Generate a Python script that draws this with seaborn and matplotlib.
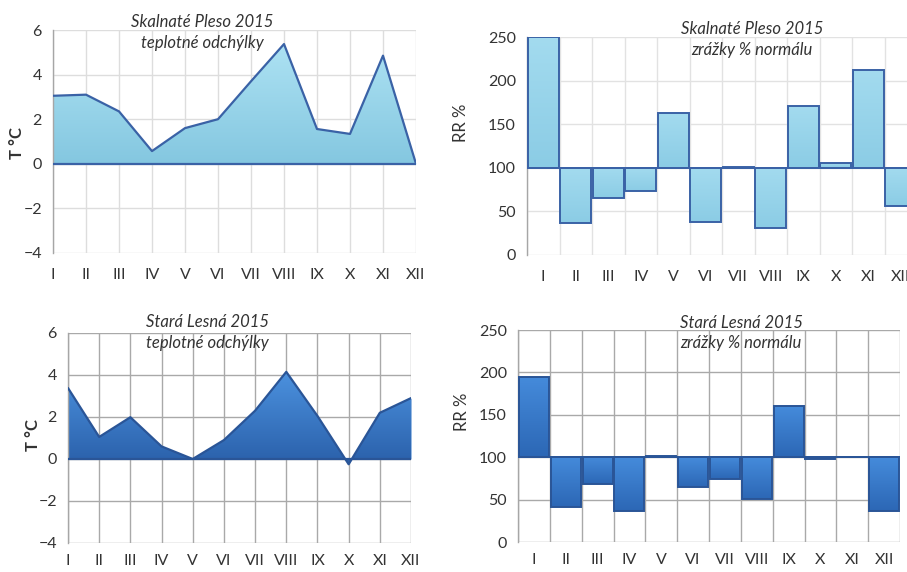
import matplotlib
matplotlib.use("Agg")
import matplotlib.pyplot as plt
import numpy as np
import pandas as pd
import seaborn as sns
from matplotlib.colors import LinearSegmentedColormap
from matplotlib.patches import Polygon

# Monthly data, 2015
months = ["I", "II", "III", "IV", "V", "VI", "VII", "VIII", "IX", "X", "XI", "XII"]
sp_temp_dev = [3.05, 3.1, 2.35, 0.57, 1.6, 2.0, 3.7, 5.37, 1.56, 1.34, 4.85, 0.0]
sp_rain_pct = [250, 37, 65, 73, 163, 38, 101, 31, 171, 106, 212, 56]
sl_temp_dev = [3.38, 1.05, 1.99, 0.6, 0.0, 0.9, 2.3, 4.15, 2.05, -0.25, 2.2, 2.9]
sl_rain_pct = [195, 41, 68, 37, 102, 65, 74, 51, 160, 98, 100, 37]
normal_pct = 100

sns.set_theme(style="white")
plt.rcParams["font.family"] = ["Lato", "DejaVu Sans"]

W, H = 907, 572
fig = plt.figure(figsize=(W / 100, H / 100), dpi=100)
fig.patch.set_facecolor("white")

LIGHT = dict(top="#ade2f3", bottom="#84c7e0", fill="#93d2e9", edge="#3a62a6")
DARK = dict(top="#4c92df", bottom="#2a60aa", fill="#3477c7", edge="#2a5597")
LIGHT_BAR = dict(top="#a3dbef", bottom="#8bcce5", fill="#93d2e9", edge="#3a62a6")
DARK_BAR = dict(top="#458bdb", bottom="#2c67b5", fill="#3477c7", edge="#2a5597")
TXT = "#333333"
FS = 11.5


def px_axes(left, top, right, bottom):
    return fig.add_axes([left / W, 1 - bottom / H, (right - left) / W, (bottom - top) / H])


def fig_text(x, y, s, **kw):
    fig.text(x / W, 1 - y / H, s, color=TXT, **kw)


def style_axes(ax):
    for side in ("top", "right", "bottom"):
        ax.spines[side].set_visible(False)
    ax.spines["left"].set_color("#a6a6a6")
    ax.spines["left"].set_linewidth(1.0)
    ax.tick_params(axis="y", which="major", length=4, color="#a6a6a6",
                   labelsize=FS, labelcolor=TXT, pad=4)
    ax.grid(False)
    ax.set_xlabel("")
    ax.set_ylabel("")
    ax.set_facecolor("white")


def gradient_fill(ax, verts, pal, extent, z):
    clip = Polygon(verts, closed=True, transform=ax.transData)
    cmap = LinearSegmentedColormap.from_list("g", [pal["bottom"], pal["top"]])
    grad = np.linspace(0, 1, 256).reshape(-1, 1)
    im = ax.imshow(grad, cmap=cmap, aspect="auto", origin="lower",
                   extent=extent, zorder=z, interpolation="bilinear")
    im.set_clip_path(clip)


def temp_panel(ax, values, pal, grid_color, pad):
    df = pd.DataFrame({"pos": np.arange(len(months)), "dev": values})
    ax.fill_between(df["pos"], 0, df["dev"], color=pal["fill"], zorder=2, linewidth=0)
    verts = [(0, 0)] + list(zip(df["pos"], df["dev"])) + [(len(months) - 1, 0)]
    gradient_fill(ax, verts, pal, (0, len(months) - 1, min(min(values), 0), max(values)), 2.5)
    sns.lineplot(data=df, x="pos", y="dev", ax=ax, color=pal["edge"], linewidth=1.6, zorder=3)
    ax.plot([0, len(months) - 1], [0, 0], color=pal["edge"], linewidth=1.6, zorder=3)
    ax.set_xlim(0, len(months) - 1)
    ax.set_ylim(-4, 6)
    ax.set_yticks(np.arange(-4, 7, 2))
    ax.set_xticks(np.arange(len(months)))
    ax.set_xticklabels(months)
    for x in range(len(months)):
        ax.axvline(x, color=grid_color, linewidth=1.0, zorder=1)
    for y in np.arange(-4, 7, 2):
        ax.axhline(y, color=grid_color, linewidth=1.0, zorder=1)
    style_axes(ax)
    ax.tick_params(axis="x", length=4, color=grid_color, labelsize=FS,
                   labelcolor=TXT, pad=pad)


def rain_panel(ax, values, pal, grid_color, pad):
    df = pd.DataFrame({"month": months, "delta": np.array(values) - normal_pct})
    sns.barplot(data=df, x="month", y="delta", ax=ax, bottom=normal_pct, width=0.94,
                color=pal["fill"], saturation=1, edgecolor=pal["edge"], linewidth=1.4,
                zorder=3)
    for bar in list(ax.patches):
        x0, y0 = bar.get_x(), bar.get_y()
        w, h = bar.get_width(), bar.get_height()
        lo, hi = min(y0, y0 + h), max(y0, y0 + h)
        if hi - lo > 0:
            verts = [(x0, lo), (x0 + w, lo), (x0 + w, hi), (x0, hi)]
            gradient_fill(ax, verts, pal, (x0, x0 + w, lo, hi), 3.1)
        bar.set_facecolor("none")
        bar.set_zorder(3.2)
    ax.set_xlim(-0.5, len(months) - 0.5)
    ax.set_ylim(0, 250)
    ax.set_yticks(np.arange(0, 251, 50))
    ax.set_xticks(np.arange(len(months)))
    ax.set_xticklabels(months)
    ax.set_xticks(np.arange(-0.5, len(months)), minor=True)
    for x in np.arange(-0.5, len(months)):
        ax.axvline(x, color=grid_color, linewidth=1.0, zorder=1)
    for y in np.arange(0, 251, 50):
        ax.axhline(y, color=grid_color, linewidth=1.0, zorder=1)
    ax.axhline(normal_pct, color=pal["edge"], linewidth=1.4, zorder=4)
    style_axes(ax)
    ax.tick_params(axis="x", which="major", length=0, labelsize=FS,
                   labelcolor=TXT, pad=pad)
    ax.tick_params(axis="x", which="minor", length=4, color=grid_color)


ax1 = px_axes(53, 30, 416, 253)
temp_panel(ax1, sp_temp_dev, LIGHT, "#dddddd", pad=7)

ax2 = px_axes(527, 37, 917, 255)
rain_panel(ax2, sp_rain_pct, LIGHT_BAR, "#e2e2e2", pad=11)

ax3 = px_axes(68, 333, 411, 543)
temp_panel(ax3, sl_temp_dev, DARK, "#a9a9a9", pad=4)

ax4 = px_axes(518, 330, 900, 542)
rain_panel(ax4, sl_rain_pct, DARK_BAR, "#a9a9a9", pad=8)

title_kw = dict(ha="center", va="center", fontsize=12, style="italic")
fig_text(202, 22, "Skalnaté Pleso 2015", **title_kw)
fig_text(202, 43, "teplotné odchýlky", **title_kw)
fig_text(752, 29, "Skalnaté Pleso 2015", **title_kw)
fig_text(752, 50, "zrážky % normálu", **title_kw)
fig_text(207, 322, "Stará Lesná 2015", **title_kw)
fig_text(207, 343, "teplotné odchýlky", **title_kw)
fig_text(741, 323, "Stará Lesná 2015", **title_kw)
fig_text(741, 343, "zrážky % normálu", **title_kw)

ylab_kw = dict(ha="center", va="center", rotation=90, fontsize=12)
fig_text(17, 143, "T °C", fontweight="bold", **ylab_kw)
fig_text(33, 435, "T °C", fontweight="bold", **ylab_kw)
fig_text(461, 123, "RR %", **ylab_kw)
fig_text(462, 412, "RR %", **ylab_kw)

fig.savefig("out.png", dpi=100, facecolor="white")
